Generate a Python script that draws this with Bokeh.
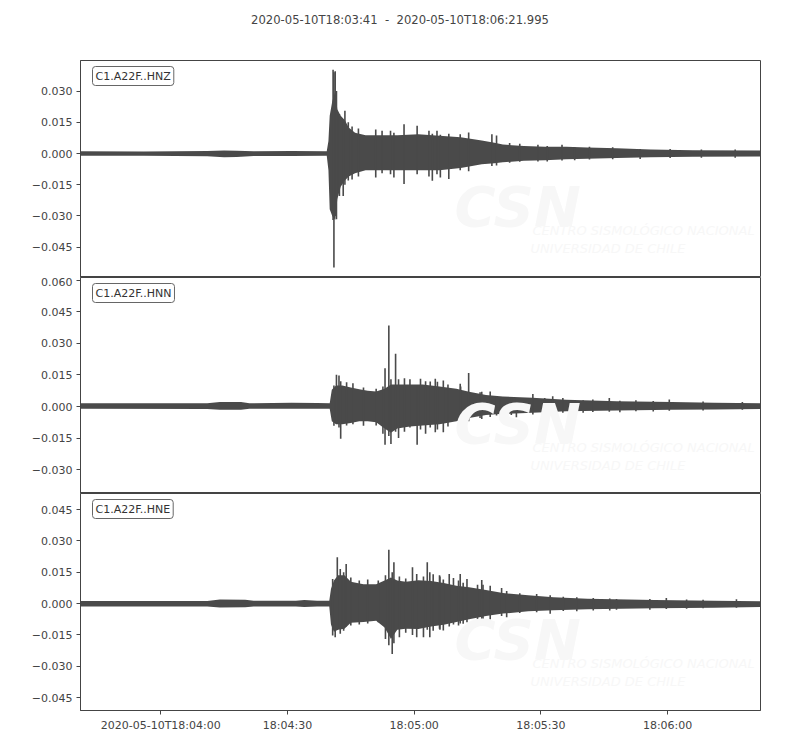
from bokeh.plotting import figure
from bokeh.models import Range1d, FixedTicker, Label, Div
from bokeh.layouts import column
from bokeh.embed import file_html
from bokeh.resources import INLINE

TITLE = "2020-05-10T18:03:41  -  2020-05-10T18:06:21.995"
DURATION_S = 160.995
X_TICKS = [19, 49, 79, 109, 139]
X_TICK_LABELS = ["2020-05-10T18:04:00", "18:04:30", "18:05:00", "18:05:30", "18:06:00"]
CHANNELS = ["C1.A22F..HNZ", "C1.A22F..HNN", "C1.A22F..HNE"]

# ---- HNZ (seconds after 18:03:41; envelope and peaks) ----
Z_T = [0, 15, 30, 34, 37, 41, 50, 58.3, 58.7, 59.0, 59.6, 60.3, 60.8, 61.6, 62.6, 63.5, 65, 67.5, 70, 75,
       80, 85, 90, 92.7, 95, 98, 100, 105, 110, 115, 120, 127, 135, 145, 161]
Z_UP = [0.0011, 0.0010, 0.0012, 0.0014, 0.0013, 0.0011, 0.0012, 0.0011, 0.0060, 0.0181,
        0.0250, 0.0300, 0.0213, 0.0181, 0.0160, 0.0125, 0.0100, 0.0088, 0.0088, 0.0088,
        0.0092, 0.0085, 0.0078, 0.0070, 0.0062, 0.0052, 0.0043, 0.0036, 0.0033, 0.0032,
        0.0029, 0.0025, 0.0019, 0.0016, 0.0014]
Z_LO = [-0.0011, -0.0011, -0.0013, -0.0018, -0.0017, -0.0012, -0.0012, -0.0011, -0.0080, -0.0268,
        -0.0300, -0.0320, -0.0220, -0.0160, -0.0130, -0.0110, -0.0095, -0.0080, -0.0080, -0.0080,
        -0.0080, -0.0080, -0.0070, -0.0060, -0.0052, -0.0047, -0.0042, -0.0035, -0.0033, -0.0028,
        -0.0025, -0.0022, -0.0018, -0.0016, -0.0014]
Z_SPK_T = [59.8, 60.0, 60.3, 60.6, 61.3, 62.2, 62.6, 63.4, 64.3, 65.8, 69.9, 71.4, 73.4, 74.2, 76.6,
           79.7, 82.5, 83.3, 84.4, 85.2, 87.2, 89.9, 91.9, 97.4,
           98.5, 101.6, 104.0, 108.3, 110.5, 114.0, 117.0, 120.5, 126.0, 132.5, 139.6, 147.0, 155.0]
Z_SPK_HI = [0.0402, 0.0390, 0.0395, 0.0300, 0.0190, 0.0150, 0.0205, 0.0150, 0.0130, 0.0120, 0.0115,
            0.0109, 0.0109, 0.0100, 0.0141, 0.0133, 0.0109, 0.0095, 0.0109, 0.0090, 0.0095, 0.0093,
            0.0101, 0.0093,
            0.0087, 0.0051, 0.0047, 0.0042, 0.0036, 0.0042, 0.0031, 0.0033, 0.0030, 0.0022, 0.0022,
            0.0019, 0.0019]
Z_SPK_LO = [-0.0320, -0.0548, -0.0300, -0.0316, -0.0204, -0.0204, -0.0150, -0.0130, -0.0125, -0.0110,
            -0.0115, -0.0095, -0.0100, -0.0115, -0.0147, -0.0100, -0.0110, -0.0131, -0.0100, -0.0115,
            -0.0123, -0.0080, -0.0085, -0.0060,
            -0.0058, -0.0045, -0.0040, -0.0038, -0.0038, -0.0034, -0.0032, -0.0029, -0.0028, -0.0026,
            -0.0022, -0.0021, -0.0020]
Z_YLIM = [-0.0596, 0.0447]
Z_YTICKS = [-0.045, -0.030, -0.015, 0.0, 0.015, 0.030]

# ---- HNN ----
N_T = [0, 30, 33, 38, 40, 50, 56, 59.0, 59.5, 60.5, 62, 64, 66, 68, 70, 72, 73.5, 75, 78, 81,
       85, 89, 92, 96, 100, 107, 115, 127, 140, 150, 161]
N_UP = [0.0015, 0.0015, 0.0022, 0.0021, 0.0015, 0.0018, 0.0017, 0.0015, 0.0080, 0.0100,
        0.0100, 0.0090, 0.0082, 0.0075, 0.0072, 0.0085, 0.0105, 0.0105, 0.0105, 0.0105,
        0.0095, 0.0085, 0.0070, 0.0055, 0.0048, 0.0042, 0.0032, 0.0025, 0.0021, 0.0018, 0.0015]
N_LO = [-0.0011, -0.0012, -0.0016, -0.0015, -0.0011, -0.0011, -0.0011, -0.0011, -0.0070, -0.0085,
        -0.0085, -0.0078, -0.0070, -0.0070, -0.0075, -0.0105, -0.0125, -0.0105, -0.0095, -0.0090,
        -0.0085, -0.0070, -0.0055, -0.0040, -0.0035, -0.0030, -0.0022, -0.0019, -0.0015, -0.0014, -0.0012]
N_SPK_T = [60.0, 60.6, 61.2, 61.6, 63.0, 64.5, 67.0, 70.0, 71.6, 72.1, 73.0, 73.5, 74.6, 75.3, 76.7,
           78.0, 79.7, 80.5, 81.7, 84.0, 84.5, 87.0, 90.0, 91.9, 95.0,
           82.8, 85.9, 89.9, 94.6, 97.0, 98.5, 99.3, 102.0, 103.2, 107.1, 109.9, 111.8, 114.2, 119.0,
           121.3, 125.2, 127.7, 131.5, 135.6, 139.4, 147.4, 156.7]
N_SPK_HI = [0.0100, 0.0151, 0.0148, 0.0120, 0.0116, 0.0111, 0.0090, 0.0085, 0.0095, 0.0182, 0.0386,
            0.0130, 0.0251, 0.0130, 0.0135, 0.0130, 0.0100, 0.0132, 0.0120, 0.0132, 0.0118, 0.0105,
            0.0095, 0.0159, 0.0070,
            0.0119, 0.0124, 0.0108, 0.0068, 0.0071, 0.0050, 0.0036, 0.0044, 0.0040, 0.0060, 0.0040,
            0.0049, 0.0040, 0.0030, 0.0033, 0.0040, 0.0028, 0.0030, 0.0026, 0.0033, 0.0024, 0.0021]
N_SPK_LO = [-0.0092, -0.0080, -0.0100, -0.0154, -0.0090, -0.0085, -0.0092, -0.0090, -0.0130, -0.0182,
            -0.0140, -0.0178, -0.0120, -0.0150, -0.0120, -0.0100, -0.0182, -0.0110, -0.0130, -0.0122,
            -0.0110, -0.0095, -0.0080, -0.0070, -0.0060,
            -0.0100, -0.0122, -0.0090, -0.0055, -0.0050, -0.0043, -0.0040, -0.0040, -0.0051, -0.0038,
            -0.0043, -0.0035, -0.0030, -0.0030, -0.0026, -0.0025, -0.0027, -0.0022, -0.0024, -0.0020,
            -0.0019, -0.0016]
N_YLIM = [-0.0414, 0.0614]
N_YTICKS = [-0.030, -0.015, 0.0, 0.015, 0.030, 0.045, 0.060]

# ---- HNE ----
E_T = [0, 30, 33, 39, 41, 51, 53, 56, 58.9, 59.3, 60.0, 61, 62.5, 64, 67, 70, 72, 73.5, 75, 77,
       80, 83, 86, 89, 92, 96, 100, 106, 112, 120, 136, 150, 161]
E_UP = [0.0012, 0.0012, 0.0019, 0.0018, 0.0013, 0.0013, 0.0017, 0.0013, 0.0013, 0.0070,
        0.0110, 0.0135, 0.0135, 0.0105, 0.0092, 0.0092, 0.0110, 0.0125, 0.0110, 0.0105,
        0.0112, 0.0108, 0.0098, 0.0085, 0.0078, 0.0065, 0.0050, 0.0040, 0.0030, 0.0023,
        0.0017, 0.0014, 0.0011]
E_LO = [-0.0014, -0.0014, -0.0019, -0.0018, -0.0014, -0.0014, -0.0017, -0.0014, -0.0014, -0.0100,
        -0.0135, -0.0125, -0.0120, -0.0092, -0.0088, -0.0082, -0.0115, -0.0170, -0.0125, -0.0120,
        -0.0122, -0.0110, -0.0102, -0.0088, -0.0075, -0.0060, -0.0048, -0.0037, -0.0032, -0.0027,
        -0.0023, -0.0020, -0.0016]
E_SPK_T = [59.7, 60.3, 60.8, 61.5, 62.3, 62.9, 64.0, 66.0, 68.0, 70.5, 72.2, 73.0, 73.8, 74.2, 75.5,
           77.0, 78.6, 79.6, 81.2, 82.1, 83.5, 85.0, 87.3, 89.5, 91.5, 94.0, 97.0,
           82.7, 85.1, 85.9, 88.3, 89.9, 90.6, 95.0, 95.3, 99.7, 100.9, 104.0, 108.0, 111.2, 114.3,
           117.5, 121.4, 125.3, 126.9, 134.8, 138.7, 143.5, 147.4, 155.3]
E_SPK_HI = [0.0118, 0.0100, 0.0222, 0.0166, 0.0150, 0.0190, 0.0125, 0.0110, 0.0115, 0.0110, 0.0135,
            0.0258, 0.0150, 0.0198, 0.0130, 0.0120, 0.0174, 0.0142, 0.0130, 0.0198, 0.0140, 0.0135,
            0.0142, 0.0110, 0.0118, 0.0090, 0.0085,
            0.0150, 0.0129, 0.0115, 0.0123, 0.0142, 0.0100, 0.0113, 0.0090, 0.0075, 0.0060, 0.0049,
            0.0046, 0.0040, 0.0033, 0.0030, 0.0027, 0.0024, 0.0022, 0.0022, 0.0027, 0.0020, 0.0018,
            0.0021]
E_SPK_LO = [-0.0153, -0.0161, -0.0120, -0.0145, -0.0130, -0.0110, -0.0105, -0.0100, -0.0095, -0.0090,
            -0.0170, -0.0200, -0.0241, -0.0190, -0.0161, -0.0140, -0.0150, -0.0161, -0.0161, -0.0125,
            -0.0130, -0.0120, -0.0110, -0.0105, -0.0090, -0.0080, -0.0075,
            -0.0161, -0.0125, -0.0129, -0.0100, -0.0095, -0.0097, -0.0080, -0.0089, -0.0060, -0.0065,
            -0.0045, -0.0042, -0.0049, -0.0035, -0.0037, -0.0033, -0.0033, -0.0030, -0.0030, -0.0026,
            -0.0025, -0.0022, -0.0020]
E_YLIM = [-0.0512, 0.0527]
E_YTICKS = [-0.045, -0.030, -0.015, 0.0, 0.015, 0.030, 0.045]

WAVE = "#4a4a4a"
INK = "#444444"
FONT = "DejaVu Sans"

x_range = Range1d(0, DURATION_S)


def fmt(v):
    return ("%.3f" % v).replace("-", "\u2212")


def panel(name, t, up, lo, st, shi, slo, ylim, yticks, frame_h, top_border, bottom_border, with_xaxis):
    p = figure(width=770, height=frame_h + top_border + bottom_border, x_range=x_range,
               y_range=Range1d(ylim[0], ylim[1]), output_backend="svg", toolbar_location=None,
               x_axis_location="below" if with_xaxis else None,
               min_border_left=80, min_border_right=10, min_border_top=top_border,
               min_border_bottom=bottom_border)
    p.grid.visible = False
    p.outline_line_color = INK
    p.outline_line_width = 1
    p.background_fill_color = "white"
    p.border_fill_color = "white"

    # very faint watermark
    for txt, dx, dy, size, style in [("CSN", 374, 146, "56px", "bold italic"),
                                     ("CENTRO SISMOLÓGICO NACIONAL", 452, 170, "13px", "italic"),
                                     ("UNIVERSIDAD DE CHILE", 450, 188, "13px", "italic")]:
        p.add_layout(Label(x=dx, y=frame_h - dy, x_units="screen", y_units="screen", text=txt,
                           text_font=FONT, text_font_size=size, text_font_style=style,
                           text_color="#f7f7f7", text_baseline="alphabetic"))

    p.varea(x=t, y1=lo, y2=up, fill_color=WAVE)
    p.segment(x0=st, y0=slo, x1=st, y1=shi, line_color=WAVE, line_width=1.6)

    ax = p.yaxis[0]
    ax.ticker = FixedTicker(ticks=yticks)
    ax.major_label_overrides = {v: fmt(v) for v in yticks}
    ax.axis_line_color = INK
    ax.major_tick_line_color = INK
    ax.major_tick_in = 0
    ax.major_tick_out = 4
    ax.minor_tick_line_color = None
    ax.major_label_text_font = FONT
    ax.major_label_text_font_size = "11px"
    ax.major_label_text_color = INK
    ax.major_label_standoff = 4

    if with_xaxis:
        xa = p.xaxis[0]
        xa.ticker = FixedTicker(ticks=X_TICKS)
        xa.major_label_overrides = dict(zip(X_TICKS, X_TICK_LABELS))
        xa.axis_line_color = INK
        xa.major_tick_line_color = INK
        xa.major_tick_in = 0
        xa.major_tick_out = 4
        xa.minor_tick_line_color = None
        xa.major_label_text_font = FONT
        xa.major_label_text_font_size = "11px"
        xa.major_label_text_color = INK
        xa.major_label_standoff = 4

    p.add_layout(Label(x=12, y=frame_h - 6, x_units="screen", y_units="screen", text=name,
                       text_font=FONT, text_font_size="11px", text_color="#333333",
                       text_baseline="top", text_align="left",
                       background_fill_color="white", border_line_color="#666666",
                       border_line_width=1, padding=3, border_radius=3))
    return p


title = Div(text='<div style="padding-top:12px">' + TITLE.replace(" ", "&nbsp;") + '</div>',
            width=800, height=52, margin=(0, 0, 0, 0),
            styles={"text-align": "center", "font-family": FONT, "font-size": "11.6px",
                    "color": INK})

p1 = panel(CHANNELS[0], Z_T, Z_UP, Z_LO, Z_SPK_T, Z_SPK_HI, Z_SPK_LO, Z_YLIM, Z_YTICKS, 217, 8, 0, False)
p2 = panel(CHANNELS[1], N_T, N_UP, N_LO, N_SPK_T, N_SPK_HI, N_SPK_LO, N_YLIM, N_YTICKS, 216, 0, 0, False)
p3 = panel(CHANNELS[2], E_T, E_UP, E_LO, E_SPK_T, E_SPK_HI, E_SPK_LO, E_YLIM, E_YTICKS, 217, 0, 30, True)

layout = column(title, p1, p2, p3)
open("out.html", "w").write(file_html(layout, INLINE))
